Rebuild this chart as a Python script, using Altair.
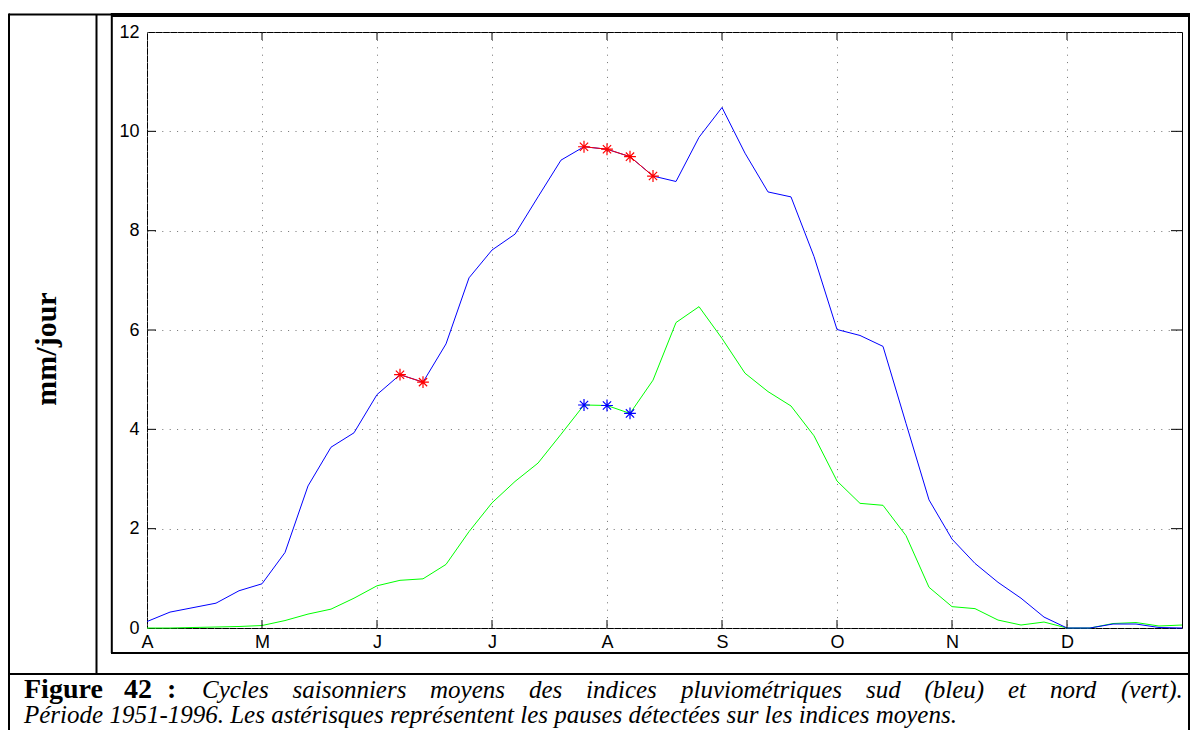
import altair as alt
import pandas as pd

# ---------------- data ----------------
months = ["A", "M", "J", "J", "A", "S", "O", "N", "D"]
pentads_per_month = 5
blue = [0.13, 0.32, 0.41, 0.50, 0.75, 0.89, 1.52, 2.86, 3.64, 3.93,
        4.70, 5.10, 4.95, 5.72, 7.05, 7.61, 7.93, 8.68, 9.42, 9.69,
        9.64, 9.49, 9.10, 8.99, 9.88, 10.48, 9.56, 8.78, 8.68, 7.48,
        6.01, 5.89, 5.67, 4.12, 2.58, 1.79, 1.30, 0.92, 0.60, 0.22,
        0.0, 0.0, 0.08, 0.08, 0.01, 0.0]
green = [0.0, 0.0, 0.01, 0.02, 0.03, 0.05, 0.15, 0.28, 0.38, 0.60,
         0.85, 0.96, 0.99, 1.28, 1.94, 2.52, 2.95, 3.32, 3.90, 4.49,
         4.48, 4.32, 4.99, 6.15, 6.47, 5.83, 5.13, 4.76, 4.47, 3.87,
         2.96, 2.51, 2.47, 1.86, 0.82, 0.43, 0.39, 0.16, 0.06, 0.12,
         0.0, 0.0, 0.09, 0.11, 0.04, 0.06]
blue_pause_idx = [11, 12, 19, 20, 21, 22]
blue_pause_seg = [0, 0, 1, 1, 1, 1]
green_pause_idx = [19, 20, 21]
y_ticks = [0, 2, 4, 6, 8, 10, 12]

caption1_words = ["Figure", "42", ":", "Cycles", "saisonniers", "moyens", "des",
                  "indices", "pluviométriques", "sud", "(bleu)", "et", "nord", "(vert)."]
caption1_bold = [True, True, True] + [False] * 11
caption2 = "Période 1951-1996. Les astérisques représentent les pauses détectées sur les indices moyens."
ylabel = "mm/jour"

# ---------------- layout ----------------
W, H = 1035, 596          # plot area
OX, OY = 147, 32          # page position of plot origin
PAGE_W, PAGE_H = 1182, 722  # drawable size (window minus body margins)
RIGHT = 1189              # right border of the document frame (page x)
caption1_x = [24, 124, 167, 202, 292.5, 430, 529, 586, 681, 866, 924.5, 1008, 1050, 1121]

n = len(blue)
xmax = n - 1
x_scale = alt.Scale(domain=[0, xmax], nice=False, zero=False)
y_scale = alt.Scale(domain=[0, 12], nice=False, zero=False)
month_pos = [k * pentads_per_month for k in range(len(months))]
label_expr = "[" + ",".join("'%s'" % m for m in months) + "][round(datum.value/%d)]" % pentads_per_month

x_axis = alt.Axis(values=month_pos, labelExpr=label_expr, title=None, domain=False,
                  ticks=False, grid=True, gridColor="#707070", gridDash=[1, 6.4],
                  labelFont="Liberation Sans", labelFontSize=18, labelColor="black",
                  labelPadding=5, labelAngle=0, labelFlush=False, labelOverlap=False)
y_axis = alt.Axis(values=y_ticks, title=None, domain=False, ticks=False, grid=True,
                  gridColor="#707070", gridDash=[1, 6.4], labelFont="Liberation Sans",
                  labelFontSize=18, labelColor="black", labelPadding=8,
                  labelFlush=False, labelOverlap=False)

df_blue = pd.DataFrame({"i": list(range(n)), "v": blue})
df_green = pd.DataFrame({"i": list(range(n)), "v": green})
df_bp = pd.DataFrame({"i": blue_pause_idx, "v": [blue[k] for k in blue_pause_idx],
                      "seg": blue_pause_seg})
df_gp = pd.DataFrame({"i": green_pause_idx, "v": [green[k] for k in green_pause_idx]})

X = alt.X("i:Q", scale=x_scale, axis=x_axis)
Y = alt.Y("v:Q", scale=y_scale, axis=y_axis)

star = "M-1,0L1,0M0,-1L0,1M-0.7,-0.7L0.7,0.7M-0.7,0.7L0.7,-0.7"

green_line = alt.Chart(df_green).mark_line(color="#00ff00", strokeWidth=1).encode(x=X, y=Y)
blue_line = alt.Chart(df_blue).mark_line(color="#0000ff", strokeWidth=1).encode(x=X, y=Y)
red_seg = alt.Chart(df_bp).mark_line(color="#ff0000", strokeWidth=1).encode(
    x=X, y=Y, detail="seg:N")
red_stars = alt.Chart(df_bp).mark_point(shape=star, size=140, filled=False,
                                        color="#ff0000", strokeWidth=1.2, opacity=1).encode(x=X, y=Y)
blue_stars = alt.Chart(df_gp).mark_point(shape=star, size=140, filled=False,
                                         color="#0000ff", strokeWidth=1.2, opacity=1).encode(x=X, y=Y)

# inward ticks
df_yt = pd.DataFrame({"v": y_ticks[1:-1]})
df_xt = pd.DataFrame({"i": month_pos[1:]})
tick_left = alt.Chart(df_yt).mark_rule(color="black", strokeWidth=1).encode(
    y=alt.Y("v:Q", scale=y_scale, axis=y_axis), x=alt.value(0), x2=alt.value(9))
tick_right = alt.Chart(df_yt).mark_rule(color="black", strokeWidth=1).encode(
    y=alt.Y("v:Q", scale=y_scale, axis=y_axis), x=alt.value(W - 11), x2=alt.value(W))
tick_bottom = alt.Chart(df_xt).mark_rule(color="black", strokeWidth=1).encode(
    x=alt.X("i:Q", scale=x_scale, axis=x_axis), y=alt.value(H - 8), y2=alt.value(H))
tick_top = alt.Chart(df_xt).mark_rule(color="black", strokeWidth=1).encode(
    x=alt.X("i:Q", scale=x_scale, axis=x_axis), y=alt.value(0), y2=alt.value(8))

layers = [green_line, blue_line, red_seg, red_stars, blue_stars,
          tick_left, tick_right, tick_bottom, tick_top]

# frame of the document table (page coordinates)
one = alt.Data(values=[{}])
hlines = [(9, 111, 14.5, 2), (111, RIGHT + 1, 15, 4), (111, RIGHT, 653, 2), (9, RIGHT, 674, 2)]
vlines = [(9, 13.5, 740, 2), (RIGHT, 13, 740, 2), (96.5, 14, 674, 2), (111.8, 13, 653, 2)]
for x1, x2, yy, sw in hlines:
    layers.append(alt.Chart(one).mark_rule(color="black", strokeWidth=sw).encode(
        x=alt.value(x1 - OX), x2=alt.value(x2 - OX), y=alt.value(yy - OY)))
for xx, y1, y2, sw in vlines:
    layers.append(alt.Chart(one).mark_rule(color="black", strokeWidth=sw).encode(
        x=alt.value(xx - OX), y=alt.value(y1 - OY), y2=alt.value(y2 - OY)))

# y label
layers.append(alt.Chart(one).mark_text(font="Liberation Serif", fontSize=30, fontWeight="bold",
                                       angle=270, align="center", baseline="alphabetic",
                                       color="black").encode(
    x=alt.value(56 - OX), y=alt.value(349 - OY), text=alt.value(ylabel)))

# caption line 1 (justified words)
for w, bold, px in zip(caption1_words, caption1_bold, caption1_x):
    if bold:
        mk = alt.Chart(one).mark_text(font="Liberation Serif", fontSize=28, fontWeight="bold",
                                      align="left", baseline="alphabetic", color="black")
    else:
        mk = alt.Chart(one).mark_text(font="Liberation Serif", fontSize=25, fontStyle="italic",
                                      align="left", baseline="alphabetic", color="black")
    layers.append(mk.encode(x=alt.value(px - OX), y=alt.value(698 - OY), text=alt.value(w)))

# caption line 2
layers.append(alt.Chart(one).mark_text(font="Liberation Serif", fontSize=25, fontStyle="italic",
                                       align="left", baseline="alphabetic", color="black").encode(
    x=alt.value(24 - OX), y=alt.value(723 - OY), text=alt.value(caption2)))

pad_left, pad_top = OX - 8, OY - 8
chart = alt.layer(*layers).properties(
    width=W, height=H,
    autosize=alt.AutoSizeParams(type="none"),
    padding={"left": pad_left, "top": pad_top, "right": PAGE_W - pad_left - W,
             "bottom": PAGE_H - pad_top - H},
    background="white",
).configure_view(stroke="black", strokeWidth=1)

chart.save("out.html", embed_options={"renderer": "svg", "actions": False})
